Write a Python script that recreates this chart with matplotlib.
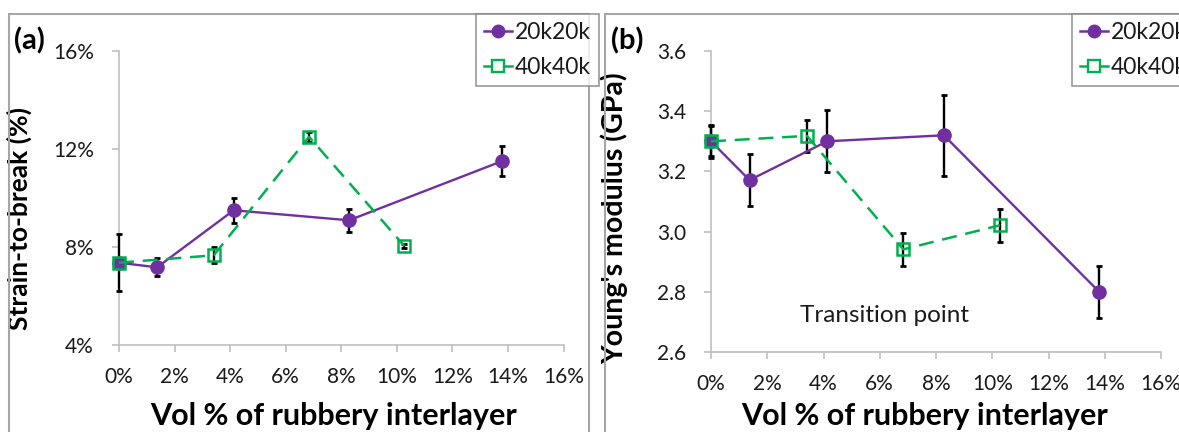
import matplotlib
matplotlib.use("Agg")
import matplotlib.pyplot as plt
from matplotlib.patches import Rectangle
from matplotlib.lines import Line2D
from matplotlib.ticker import FuncFormatter

plt.rcParams['font.family'] = ['Lato', 'DejaVu Sans']

# ---- data ----
x_20k = [0.0, 1.37, 4.13, 8.28, 13.8]
x_40k = [0.0, 3.41, 6.84, 10.27]

strain_20k = [7.36, 7.17, 9.50, 9.09, 11.51]
strain_20k_err = [1.17, 0.37, 0.50, 0.48, 0.60]
strain_40k = [7.36, 7.66, 12.5, 8.04]
strain_40k_err = [0.20, 0.33, 0.20, 0.10]

mod_20k = [3.30, 3.171, 3.30, 3.32, 2.80]
mod_20k_err = [0.055, 0.087, 0.103, 0.135, 0.086]
mod_40k = [3.30, 3.318, 2.941, 3.021]
mod_40k_err = [0.05, 0.053, 0.056, 0.055]

x_ticks = [0, 2, 4, 6, 8, 10, 12, 14, 16]
strain_ticks = [4, 8, 12, 16]
mod_ticks = [2.6, 2.8, 3.0, 3.2, 3.4, 3.6]
series_names = ["20k20k", "40k40k"]

PURPLE = "#7030A0"
GREEN = "#00B050"
AXGRAY = "#BFBFBF"
BORDER = "#A6A6A6"
TXT = "#1a1a1a"

W, H = 1179, 432
fig = plt.figure(figsize=(W / 100, H / 100), dpi=100)

def fbox(l, t, r, b):
    return [l / W, 1 - b / H, (r - l) / W, (b - t) / H]

# panel borders
fig.patches.append(Rectangle((9 / W, -0.1), (589 - 9) / W, 1 - 14 / H + 0.1,
                             transform=fig.transFigure, fill=False,
                             edgecolor=BORDER, lw=1.5))
fig.patches.append(Rectangle((605 / W, -0.1), 0.5, 1 - 14 / H + 0.1,
                             transform=fig.transFigure, fill=False,
                             edgecolor=BORDER, lw=1.5))

axa = fig.add_axes(fbox(119, 51, 563.5, 345))
axb = fig.add_axes(fbox(711, 51, 1161, 352))

def style(ax):
    for s in ["top", "right"]:
        ax.spines[s].set_visible(False)
    for s in ["left", "bottom"]:
        ax.spines[s].set_color(AXGRAY)
        ax.spines[s].set_linewidth(1.2)
    ax.set_xlim(0, 16)
    ax.set_xticks(x_ticks)
    ax.xaxis.set_major_formatter(FuncFormatter(lambda v, p: f"{int(round(v))}%"))
    ax.tick_params(axis="x", length=5, width=1.2, color=AXGRAY, pad=11,
                   labelsize=15, labelcolor=TXT)
    ax.tick_params(axis="y", length=5, width=1.2, color=AXGRAY, pad=13,
                   labelsize=15, labelcolor=TXT)
    ax.set_facecolor("none")
    ax.set_xlabel("Vol % of rubbery interlayer", fontsize=22, fontweight="bold",
                  color="black")

def draw(ax, y20, e20, y40, e40):
    ax.errorbar(x_20k, y20, yerr=e20, fmt="none", ecolor="black",
                elinewidth=1.7, capsize=2.5, capthick=2, zorder=2.7, clip_on=False)
    ax.errorbar(x_40k, y40, yerr=e40, fmt="none", ecolor="black",
                elinewidth=1.7, capsize=2.5, capthick=2, zorder=2.7, clip_on=False)
    ax.plot(x_20k, y20, color=PURPLE, lw=1.7, marker="o", ms=9.5,
            mfc=PURPLE, mec=PURPLE, zorder=3, clip_on=False)
    ax.plot(x_40k, y40, color=GREEN, lw=1.8, ls=(0, (6, 3.5)), marker="s", ms=9,
            mfc="none", mec=GREEN, mew=1.8, zorder=4, clip_on=False)

# panel a
style(axa)
draw(axa, strain_20k, strain_20k_err, strain_40k, strain_40k_err)
axa.set_ylim(4, 16)
axa.set_yticks(strain_ticks)
axa.yaxis.set_major_formatter(FuncFormatter(lambda v, p: f"{int(round(v))}%"))
axa.set_ylabel("Strain-to-break (%)", fontsize=19, fontweight="bold")
axa.yaxis.set_label_coords((32 - 119) / (563.5 - 119), (345 - 219) / 294)
axa.xaxis.set_label_coords((334 - 119) / (563.5 - 119), -(402 - 345) / 294)

# panel b
style(axb)
draw(axb, mod_20k, mod_20k_err, mod_40k, mod_40k_err)
axb.set_ylim(2.6, 3.6)
axb.set_yticks(mod_ticks)
axb.yaxis.set_major_formatter(FuncFormatter(lambda v, p: f"{v:.1f}"))
axb.set_ylabel("Young's modulus (GPa)", fontsize=20.5, fontweight="bold")
axb.yaxis.set_label_coords((628 - 711) / 450, (352 - 218) / 301)
axb.xaxis.set_label_coords((925 - 711) / 450, -(402 - 352) / 301)
axb.text(3.17, 2.72, "Transition point", fontsize=17.5, color=TXT, va="center", ha="left")

# panel letters
fig.text(14 / W, 1 - 41 / H, "(a)", fontsize=21, fontweight="bold", va="center", ha="left")
fig.text(611 / W, 1 - 41 / H, "(b)", fontsize=21, fontweight="bold", va="center", ha="left")

# legends
handles = [
    Line2D([], [], color=PURPLE, lw=1.8, marker="o", ms=9, mfc=PURPLE, mec=PURPLE),
    Line2D([], [], color=GREEN, lw=1.8, marker="s", ms=8, mfc="white", mec=GREEN, mew=1.7),
]
for left in [476, 1072]:
    leg = fig.legend(handles, series_names, loc="upper left",
                     bbox_to_anchor=(left / W, 1 - 14 / H), bbox_transform=fig.transFigure,
                     fontsize=16.5, frameon=True, fancybox=False, handlelength=1.2,
                     handletextpad=0.15, borderpad=0.35, labelspacing=0.62,
                     borderaxespad=0, edgecolor="#808080")
    leg.get_frame().set_linewidth(1.2)
    for t in leg.get_texts():
        t.set_color(TXT)

fig.savefig("out.png", dpi=100)
